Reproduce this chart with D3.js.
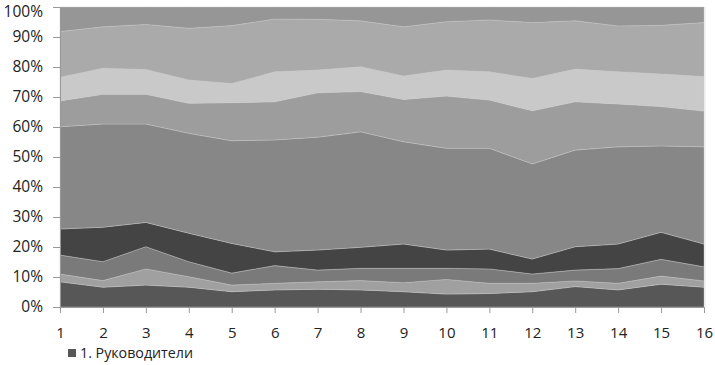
<!DOCTYPE html>
<html lang="ru">
<head>
<meta charset="UTF-8">
<title>Stacked area</title>
<script src="https://d3js.org/d3.v7.min.js"></script>
<style>
  body { margin: 0; background: #fff; }
</style>
</head>
<body>
<svg id="chart" width="715" height="365"></svg>
<script>
// categories (x points)
const categories = d3.range(1, 17);
// layer shares, %, bottom to top
const s1 = [8.4, 6.6, 7.3, 6.6, 5.1, 5.7, 5.9, 5.7, 5.1, 4.3, 4.5, 5.1, 6.8, 5.7, 7.6, 6.6];
const s2 = [2.6, 2.2, 5.4, 3.5, 2.2, 2.2, 2.5, 3.1, 3.0, 4.9, 3.4, 2.8, 1.9, 2.2, 2.7, 2.1];
const s3 = [6.3, 6.3, 7.4, 5.0, 4.0, 5.9, 3.9, 4.1, 4.8, 3.7, 4.8, 3.1, 3.6, 4.9, 5.6, 4.7];
const s4 = [8.7, 11.5, 8.1, 9.5, 9.9, 4.6, 6.7, 7.0, 8.1, 6.1, 6.6, 5.0, 7.8, 8.2, 9.0, 7.6];
const s5 = [34.1, 34.4, 32.8, 33.3, 34.2, 37.3, 37.6, 38.5, 34.1, 33.9, 33.6, 31.7, 32.2, 32.4, 28.8, 32.4];
const s6 = [8.6, 9.9, 9.9, 10.0, 12.7, 12.7, 14.8, 13.4, 14.1, 17.4, 16.1, 17.7, 16.1, 14.3, 13.1, 11.9];
const s7 = [7.9, 8.7, 8.3, 7.8, 6.4, 10.0, 7.6, 8.3, 7.8, 8.7, 9.4, 10.8, 10.9, 10.7, 10.9, 11.5];
const s8 = [15.2, 13.8, 15.0, 17.2, 19.3, 17.6, 16.9, 15.3, 16.4, 16.1, 17.3, 18.6, 16.1, 15.3, 16.2, 18.0];
const s9 = [8.2, 6.6, 5.8, 7.1, 6.2, 4.0, 4.1, 4.6, 6.6, 4.9, 4.3, 5.2, 4.6, 6.3, 6.1, 5.2];
const series = [s1, s2, s3, s4, s5, s6, s7, s8, s9];
const legendLabel = "1. Руководители";
const yTicks = [0, 0.1, 0.2, 0.3, 0.4, 0.5, 0.6, 0.7, 0.8, 0.9, 1];

const colors = ["#575757", "#a0a0a0", "#7a7a7a", "#444444", "#878787",
                "#9d9d9d", "#c9c9c9", "#aaaaaa", "#969696"];

const svg = d3.select("#chart");
const margin = { top: 7, left: 60, right: 11, bottom: 58 };
const width = 715, height = 365;
const plotW = width - margin.left - margin.right;
const plotH = height - margin.top - margin.bottom;

const rows = categories.map((c, i) => {
    const r = { cat: c };
    series.forEach((s, k) => r["k" + k] = s[i]);
    return r;
});
const keys = series.map((s, k) => "k" + k);

const stack = d3.stack().keys(keys).offset(d3.stackOffsetExpand);
const layers = stack(rows);

const x = d3.scaleLinear().domain([1, 16]).range([0, plotW]);
const y = d3.scaleLinear().domain([0, 1]).range([plotH, 0]);

const g = svg.append("g").attr("transform", `translate(${margin.left},${margin.top})`);

const area = d3.area()
    .x(d => x(d.data.cat))
    .y0(d => y(d[0]))
    .y1(d => y(d[1]));

g.selectAll("path.layer")
    .data(layers)
    .enter().append("path")
    .attr("class", "layer")
    .attr("d", area)
    .attr("fill", (d, i) => colors[i])
    .attr("stroke", "#c8c8c8")
    .attr("stroke-width", 0.4);

// right faint border
g.append("line")
    .attr("x1", plotW + 1).attr("x2", plotW + 1)
    .attr("y1", 0).attr("y2", plotH)
    .attr("stroke", "#e4e4e4");

// y axis
const yAxis = d3.axisLeft(y).tickValues(yTicks).tickFormat(d3.format(".0%")).tickSize(7).tickPadding(10);
const ya = g.append("g").call(yAxis);
ya.select(".domain").attr("stroke", "#999");
ya.selectAll(".tick line").attr("stroke", "#999");
ya.selectAll("text")
    .attr("font-family", "'Open Sans', sans-serif")
    .attr("font-size", "15.5px")
    .attr("fill", "#222");
// top label sits a bit lower, as in the original
ya.selectAll(".tick").filter(d => d === 1).select("text").attr("dy", "0.62em");

// x axis
const xAxis = d3.axisBottom(x).tickValues(categories).tickSize(6).tickPadding(14);
const xa = g.append("g").attr("transform", `translate(0,${plotH})`).call(xAxis);
xa.select(".domain").attr("stroke", "#999");
xa.selectAll(".tick line").attr("stroke", "#999");
xa.selectAll("text")
    .attr("font-family", "'Open Sans', sans-serif")
    .attr("font-size", "15px")
    .attr("fill", "#222");

// legend
const lg = svg.append("g").attr("transform", "translate(68,349)");
lg.append("rect").attr("width", 8).attr("height", 8).attr("fill", colors[0]);
lg.append("text")
    .attr("x", 12).attr("y", 9)
    .attr("font-family", "'Open Sans', sans-serif")
    .attr("font-size", "14px")
    .attr("textLength", 113)
    .attr("lengthAdjust", "spacingAndGlyphs")
    .attr("fill", "#222")
    .text(legendLabel);
</script>
</body>
</html>
